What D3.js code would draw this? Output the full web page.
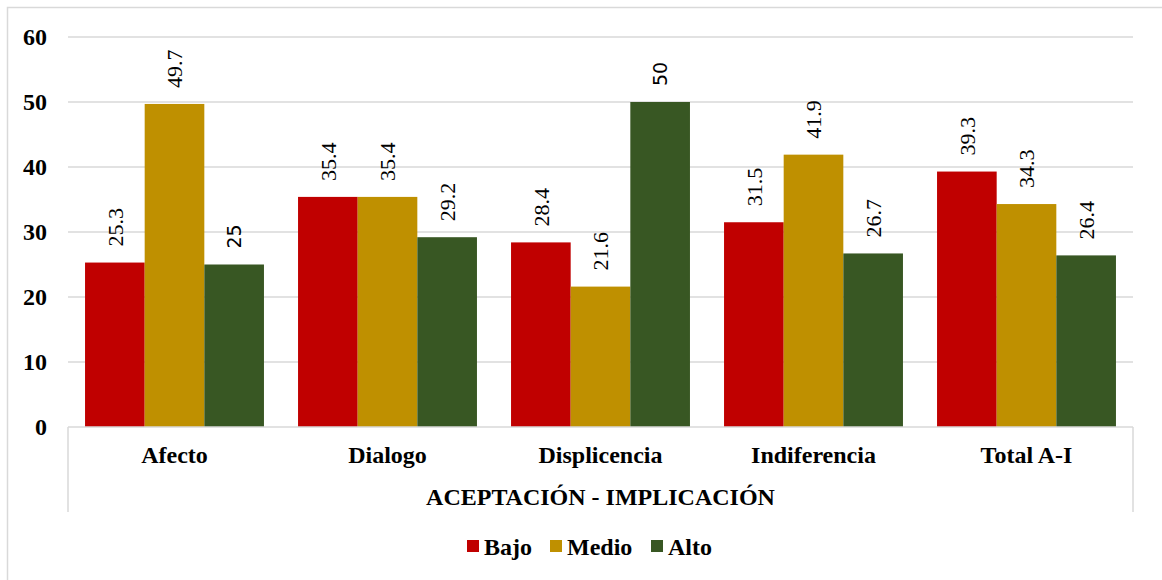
<!DOCTYPE html>
<html>
<head>
<meta charset="utf-8">
<script src="https://cdn.jsdelivr.net/npm/d3@7"></script>
<style>
  body { margin: 0; background: #fff; }
</style>
</head>
<body>
<script>
// data
var categories = ["Afecto", "Dialogo", "Displicencia", "Indiferencia", "Total A-I"];
var series = ["Bajo", "Medio", "Alto"];
var bajo  = [25.3, 35.4, 28.4, 31.5, 39.3];
var medio = [49.7, 35.4, 21.6, 41.9, 34.3];
var alto  = [25, 29.2, 50, 26.7, 26.4];
var yTicks = [0, 10, 20, 30, 40, 50, 60];
var colors = ["#C00000", "#BF9000", "#385723"];
var axisTitle = "ACEPTACIÓN - IMPLICACIÓN";

var serif = "'Liberation Serif', 'Times New Roman', serif";
var sans = "'DejaVu Sans', sans-serif";

var width = 1162, height = 580;
var plotLeft = 68, plotRight = 1133, plotTop = 37, plotBottom = 427;

var svg = d3.select("body").append("svg")
    .attr("width", width)
    .attr("height", height)
    .attr("font-family", serif);

// outer frame (runs off the right and bottom edge)
svg.append("rect")
    .attr("x", 7.5).attr("y", 7.5)
    .attr("width", 1170).attr("height", 600)
    .attr("fill", "none")
    .attr("stroke", "#d9d9d9")
    .attr("stroke-width", 1.5);

var y = d3.scaleLinear().domain([0, 60]).range([plotBottom, plotTop]);
var x0 = d3.scaleBand().domain(categories).range([plotLeft, plotRight]).paddingInner(0.16).paddingOuter(0.08);
var x1 = d3.scaleBand().domain(series).range([0, x0.bandwidth()]);

// gridlines
svg.append("g").selectAll("line")
    .data(yTicks.filter(function (d) { return d > 0; }))
    .enter().append("line")
    .attr("x1", plotLeft).attr("x2", plotRight)
    .attr("y1", function (d) { return y(d); })
    .attr("y2", function (d) { return y(d); })
    .attr("stroke", "#d9d9d9")
    .attr("stroke-width", 1.5);

// y tick labels
svg.append("g").selectAll("text")
    .data(yTicks)
    .enter().append("text")
    .attr("x", 47)
    .attr("y", function (d) { return y(d); })
    .attr("dy", "0.35em")
    .attr("text-anchor", "end")
    .style("font-size", "24px")
    .style("font-weight", "bold")
    .text(function (d) { return d; });

var rows = categories.map(function (c, i) {
  return { cat: c, vals: [bajo[i], medio[i], alto[i]] };
});

var groups = svg.append("g").selectAll("g")
    .data(rows)
    .enter().append("g")
    .attr("transform", function (d) { return "translate(" + x0(d.cat) + ",0)"; });

groups.selectAll("rect")
    .data(function (d) { return d.vals.map(function (v, j) { return { s: series[j], v: v, j: j }; }); })
    .enter().append("rect")
    .attr("x", function (d) { return x1(d.s); })
    .attr("width", x1.bandwidth())
    .attr("y", function (d) { return y(d.v); })
    .attr("height", function (d) { return plotBottom - y(d.v); })
    .attr("fill", function (d) { return colors[d.j]; });

// rotated value labels (whole numbers come out in a sans face in the original)
groups.selectAll("text")
    .data(function (d) { return d.vals.map(function (v, j) { return { s: series[j], v: v }; }); })
    .enter().append("text")
    .attr("transform", function (d) {
      var cx = x1(d.s) + x1.bandwidth() / 2;
      return "translate(" + cx + "," + (y(d.v) - 16) + ") rotate(-90)";
    })
    .attr("dy", "0.35em")
    .attr("font-family", function (d) { return Number.isInteger(d.v) ? sans : serif; })
    .style("font-size", function (d) { return Number.isInteger(d.v) ? "19px" : "22px"; })
    .text(function (d) { return d.v; });

// x axis line and category box
var boxLines = [
  [plotLeft, plotBottom, plotRight, plotBottom],
  [plotLeft, plotBottom, plotLeft, 512],
  [plotRight, plotBottom, plotRight, 512]
];
svg.append("g").selectAll("line")
    .data(boxLines)
    .enter().append("line")
    .attr("x1", function (d) { return d[0]; })
    .attr("y1", function (d) { return d[1]; })
    .attr("x2", function (d) { return d[2]; })
    .attr("y2", function (d) { return d[3]; })
    .attr("stroke", "#d9d9d9").attr("stroke-width", 1.5);

// category labels
svg.append("g").selectAll("text")
    .data(categories)
    .enter().append("text")
    .attr("x", function (d) { return x0(d) + x0.bandwidth() / 2; })
    .attr("y", 455)
    .attr("dy", "0.35em")
    .attr("text-anchor", "middle")
    .style("font-size", "24px")
    .style("font-weight", "bold")
    .text(function (d) { return d; });

svg.append("text")
    .attr("x", (plotLeft + plotRight) / 2)
    .attr("y", 497)
    .attr("dy", "0.35em")
    .attr("text-anchor", "middle")
    .style("font-size", "24px")
    .style("font-weight", "bold")
    .text(axisTitle);

// legend
var legX = [467, 550, 651];
var leg = svg.append("g").selectAll("g")
    .data(series)
    .enter().append("g")
    .attr("transform", function (d, i) { return "translate(" + legX[i] + ",540)"; });
leg.append("rect")
    .attr("width", 12).attr("height", 12)
    .attr("fill", function (d, i) { return colors[i]; });
leg.append("text")
    .attr("x", 17).attr("y", 7)
    .attr("dy", "0.35em")
    .style("font-size", "24px")
    .style("font-weight", "bold")
    .text(function (d) { return d; });
</script>
</body>
</html>
